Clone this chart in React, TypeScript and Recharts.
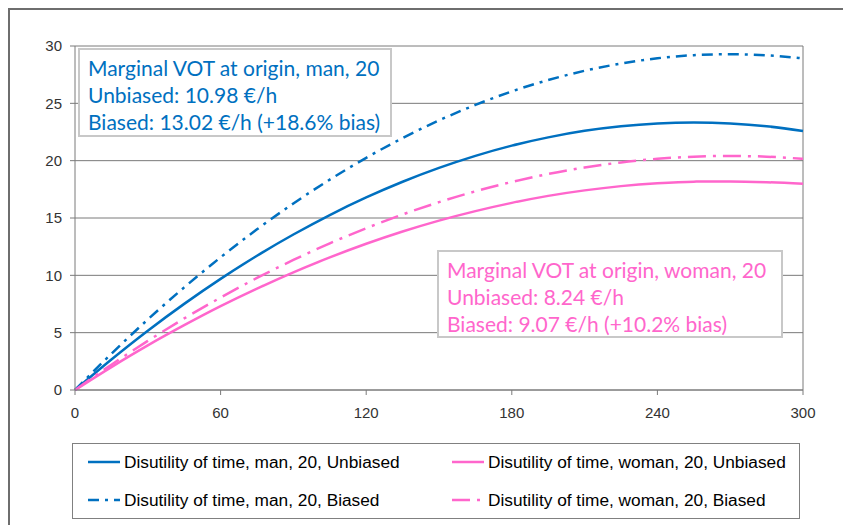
import React from "react";
import {
  LineChart,
  Line,
  XAxis,
  YAxis,
  CartesianGrid,
  ReferenceLine,
} from "recharts";

// minutes of travel time
const minutes = [0, 15, 30, 45, 60, 75, 90, 105, 120, 135, 150, 165, 180, 195, 210, 225, 240, 255, 270, 285, 300];

// disutility values
const manUnbiased = [0, 2.66, 5.17, 7.51, 9.69, 11.71, 13.56, 15.26, 16.79, 18.16, 19.37, 20.42, 21.31, 22.03, 22.6, 23.0, 23.24, 23.32, 23.24, 23.0, 22.59];
const manBiased = [0, 3.16, 6.15, 8.95, 11.57, 14.01, 16.27, 18.35, 20.25, 21.97, 23.51, 24.86, 26.04, 27.03, 27.84, 28.47, 28.93, 29.2, 29.28, 29.19, 28.92];
const womanUnbiased = [0, 2.0, 3.89, 5.65, 7.31, 8.84, 10.26, 11.56, 12.75, 13.82, 14.77, 15.6, 16.32, 16.93, 17.41, 17.78, 18.03, 18.17, 18.19, 18.12, 17.98];
const womanBiased = [0, 2.21, 4.28, 6.24, 8.06, 9.77, 11.34, 12.79, 14.11, 15.31, 16.38, 17.33, 18.14, 18.84, 19.4, 19.85, 20.16, 20.35, 20.41, 20.35, 20.16];

const xTicks = [0, 60, 120, 180, 240, 300];
const yTicks = [0, 5, 10, 15, 20, 25, 30];

const manLines = ["Marginal VOT at origin, man, 20", "Unbiased: 10.98 €/h", "Biased: 13.02 €/h (+18.6% bias)"];
const womanLines = ["Marginal VOT at origin, woman, 20", "Unbiased: 8.24 €/h", "Biased: 9.07 €/h (+10.2% bias)"];

const BLUE = "#0070C0";
const PINK = "#FF66CC";
const BLUE_DASH = "11 6 3 6";
const PINK_DASH = "18 7 3 7";

const series = [
  { key: "manU", name: "Disutility of time, man, 20, Unbiased", color: BLUE, dash: undefined as string | undefined },
  { key: "womanU", name: "Disutility of time, woman, 20, Unbiased", color: PINK, dash: undefined as string | undefined },
  { key: "manB", name: "Disutility of time, man, 20, Biased", color: BLUE, dash: BLUE_DASH },
  { key: "womanB", name: "Disutility of time, woman, 20, Biased", color: PINK, dash: PINK_DASH },
];

const data = minutes.map((m, i) => ({
  t: m,
  manU: manUnbiased[i],
  manB: manBiased[i],
  womanU: womanUnbiased[i],
  womanB: womanBiased[i],
}));

const tickStyle = { fill: "#333", fontSize: 15, fontFamily: "'Liberation Sans', Arial, sans-serif" };

function NoteBox({ lines, color, left, top, width, height }: { lines: string[]; color: string; left: number; top: number; width: number; height: number }) {
  return (
    <div
      style={{
        position: "absolute",
        left,
        top,
        width,
        height,
        boxSizing: "border-box",
        background: "#fff",
        border: "2px solid #c8c8c8",
        padding: "4px 0 0 8px",
        color,
        fontFamily: "Lato, sans-serif",
        fontSize: 21,
        lineHeight: "27px",
        whiteSpace: "nowrap",
      }}
    >
      {lines.map((l) => (
        <div key={l}>{l}</div>
      ))}
    </div>
  );
}

function LegendBox() {
  const pos = [
    { x: 15, y: 18 },
    { x: 379, y: 18 },
    { x: 15, y: 56 },
    { x: 379, y: 56 },
  ];
  return (
    <div
      style={{
        position: "absolute",
        left: 62,
        top: 433,
        width: 728,
        height: 76,
        boxSizing: "border-box",
        border: "1px solid #808080",
        fontFamily: "'Liberation Sans', Arial, sans-serif",
        fontSize: 17.3,
        color: "#000",
      }}
    >
      {series.map((s, i) => (
        <div key={s.key} style={{ position: "absolute", left: pos[i].x, top: pos[i].y - 10, height: 20, display: "flex", alignItems: "center", whiteSpace: "nowrap" }}>
          <svg width={34} height={20} style={{ display: "block" }}>
            <line x1={0} y1={10} x2={32} y2={10} stroke={s.color} strokeWidth={2.5} strokeDasharray={s.dash} />
          </svg>
          <span style={{ marginLeft: 2 }}>{s.name}</span>
        </div>
      ))}
    </div>
  );
}

export default function App() {
  return (
    <>
      {/* no scrollbars: the frame runs past the window's right and bottom edges */}
      <style>{"html, body { overflow: hidden; }"}</style>
      <div
        style={{
          position: "fixed",
          zIndex: 2147483647,
          left: 8,
          top: 8,
          width: 860,
          height: 540,
          borderTop: "2px solid #6e6e6e",
          borderLeft: "2px solid #6e6e6e",
          background: "#fff",
        }}
      >
        <LineChart width={830} height={430} data={data} margin={{ top: 36, right: 37, left: 25, bottom: 20 }}>
          <CartesianGrid vertical={false} stroke="#7a7a7a" strokeWidth={1} />
          <XAxis
            dataKey="t"
            type="number"
            domain={[0, 300]}
            ticks={xTicks}
            height={30}
            tick={tickStyle}
            tickSize={5}
            tickMargin={12}
            axisLine={{ stroke: "#7a7a7a" }}
            tickLine={{ stroke: "#7a7a7a" }}
          />
          <YAxis
            domain={[0, 30]}
            ticks={yTicks}
            width={40}
            tick={tickStyle}
            tickSize={5}
            tickMargin={8}
            axisLine={{ stroke: "#7a7a7a" }}
            tickLine={{ stroke: "#7a7a7a" }}
          />
          <ReferenceLine x={300} stroke="#7a7a7a" />
          {series.map((s) => (
            <Line
              key={s.key}
              type="monotone"
              dataKey={s.key}
              name={s.name}
              stroke={s.color}
              strokeWidth={2.5}
              strokeDasharray={s.dash}
              dot={false}
              isAnimationActive={false}
            />
          ))}
        </LineChart>
        <NoteBox lines={manLines} color={BLUE} left={68} top={38} width={314} height={89} />
        <NoteBox lines={womanLines} color={PINK} left={427} top={240} width={346} height={88} />
        <LegendBox />
      </div>
    </>
  );
}
